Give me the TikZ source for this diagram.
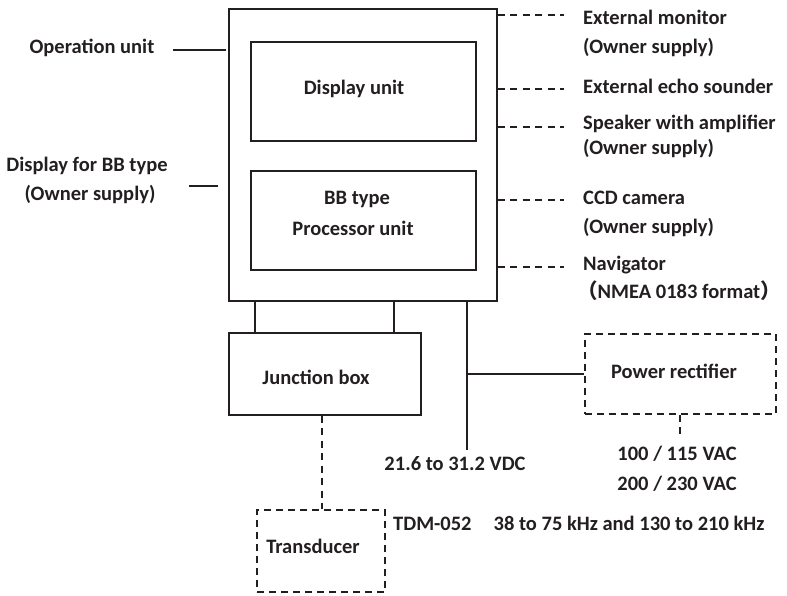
\documentclass[tikz,border=0pt]{standalone}
\usepackage{fontspec}
\setmainfont{Carlito}
\newfontfamily\cjk{Noto Sans CJK SC}
\definecolor{ink}{HTML}{231F20}
\begin{document}
\begin{tikzpicture}[x=1pt,y=-1pt,
  box/.style={draw=ink, line width=1.4pt, inner sep=0pt, rectangle},
  dbox/.style={box, dash pattern=on 7pt off 5pt},
  lbl/.style={text=ink, font=\fontsize{20.5}{24}\selectfont\bfseries, inner sep=0pt, text height=15pt, text depth=4pt},
  conn/.style={draw=ink, line width=1.4pt},
  thick conn/.style={draw=ink, line width=2.6pt},
  dconn/.style={draw=ink, line width=1.3pt, dash pattern=on 7pt off 5.5pt}]
\useasboundingbox (0,0) rectangle (787,596);

% boxes
\node[box, minimum width=268pt, minimum height=292pt] (main) at (363,155) {};
\node[box, minimum width=225pt, minimum height=99pt] (disp) at (363.5,91.5) {};
\node[box, minimum width=225pt, minimum height=99pt] (bb) at (363.5,220.5) {};
\node[box, minimum width=192pt, minimum height=82pt] (jb) at (325,374) {};
\node[dbox, minimum width=191pt, minimum height=80pt] (pr) at (680.5,374) {};
\node[dbox, minimum width=128pt, minimum height=82pt] (td) at (321,551) {};

% box texts
\node[lbl] (tdisp) at (354,89) {Display unit};
\node[lbl] (tbb1) at (357,199) {BB type};
\node[lbl] (tbb2) at (353,230) {Processor unit};
\node[lbl] (tjb) at (316,379) {Junction box};
\node[lbl] (tpr) at (674,373) {Power rectifier};
\node[lbl] (ttd) at (313,548) {Transducer};

% left labels
\node[lbl] (op) at (92,48) {Operation unit};
\node[lbl] (dbb1) at (87,166) {Display for BB type};
\node[lbl] (dbb2) at (90,195) {(Owner supply)};
\coordinate (opa) at (173,50);
\coordinate (opb) at (226,50);
\draw[conn] (opa) -- (opb);
\coordinate (dba) at (189,186);
\coordinate (dbb) at (218,186);
\draw[thick conn] (dba) -- (dbb);

% right labels
\node[lbl, anchor=west] (r1) at (583,19) {External monitor};
\node[lbl, anchor=west] (r1b) at (583,48) {(Owner supply)};
\node[lbl, anchor=west] (r2) at (583,88) {External echo sounder};
\node[lbl, anchor=west] (r3) at (583,124) {Speaker with amplifier};
\node[lbl, anchor=west] (r3b) at (583,149) {(Owner supply)};
\node[lbl, anchor=west] (r4) at (583,199) {CCD camera};
\node[lbl, anchor=west] (r4b) at (583,228) {(Owner supply)};
\node[lbl, anchor=west] (r5) at (583,265) {Navigator};
\node[lbl, anchor=west] (r5b) at (577,293) {{\cjk （}NMEA 0183 format{\cjk ）}\hspace{-9pt}};

\foreach \yy/\nm in {15/a,89/b,127/c,200/d,267/e}{
  \coordinate (re\nm) at (564,\yy);
  \draw[dconn] (main.east |- re\nm) -- (re\nm);
}

% junction connections
\coordinate (j1) at (255,301);
\coordinate (j2) at (394,301);
\draw[conn] (main.south -| j1) -- (jb.north -| j1);
\draw[conn] (main.south -| j2) -- (jb.north -| j2);
\coordinate (jt) at (322,415);
\draw[dconn] (jb.south -| jt) -- (td.north -| jt);

% power
\coordinate (pv) at (467,301);
\coordinate (pvend) at (467,450);
\coordinate (pj) at (467,374);
\draw[conn, line width=2pt] (main.south -| pv) -- (pvend);
\draw[thick conn] (pj) -- (pr.west);
\coordinate (acend) at (680,436);
\draw[dconn] (pr.south -| acend) -- (acend);

% bottom texts
\node[lbl] (vdc) at (455,465) {21.6 to 31.2 VDC};
\node[lbl] (ac1) at (677,455) {100 / 115 VAC};
\node[lbl] (ac2) at (677,485) {200 / 230 VAC};
\node[lbl, anchor=west] (tdm) at (393,525) {TDM-052\hspace{22pt}38 to 75 kHz and 130 to 210 kHz};
\end{tikzpicture}
\end{document}
